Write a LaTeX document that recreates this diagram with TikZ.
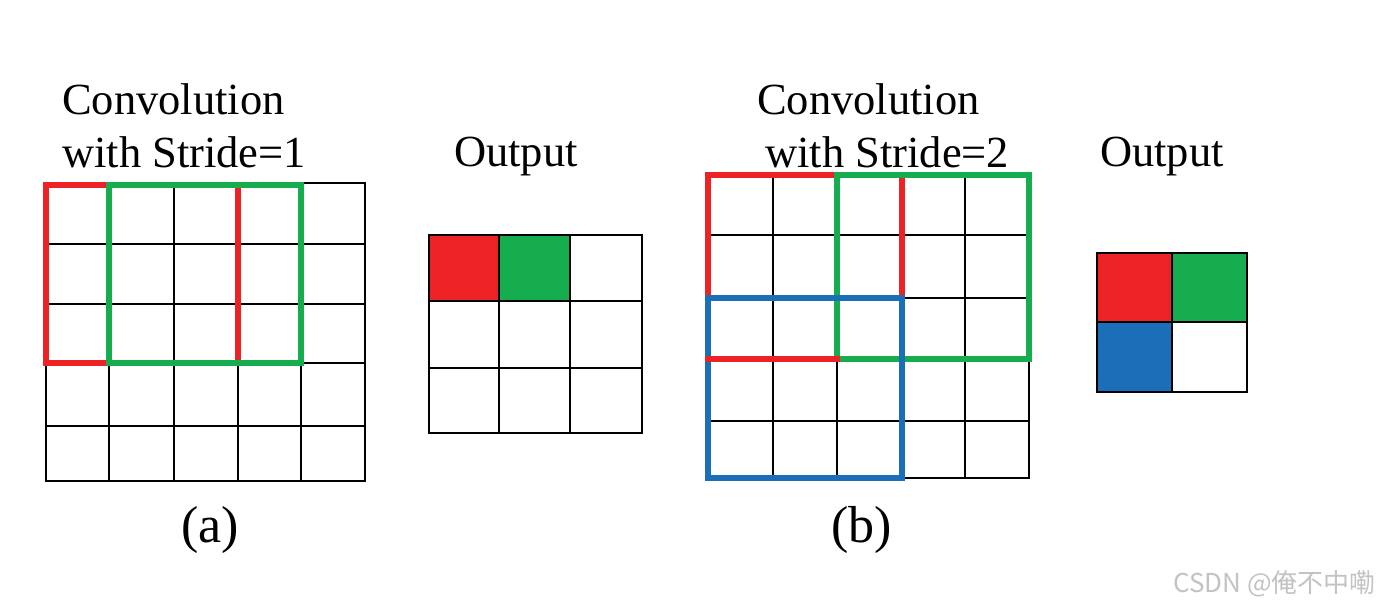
\documentclass[tikz,border=0pt]{standalone}
\usepackage{fontspec}
\setmainfont{Liberation Serif}
\newfontfamily\wmfont{Noto Sans CJK SC}
\definecolor{kred}{HTML}{ED2224}
\definecolor{kgreen}{HTML}{16AD4F}
\definecolor{kblue}{HTML}{1B6EB8}
\definecolor{wmgray}{RGB}{195,195,195}
\tikzset{
  gridline/.style={draw=black, line width=2.5pt, line cap=rect},
  winred/.style={draw=kred, line width=6.5pt, line cap=rect},
  wingreen/.style={draw=kgreen, line width=6.5pt, line cap=rect},
  winblue/.style={draw=kblue, line width=6.5pt, line cap=rect},
  lbl/.style={inner sep=0pt, anchor=base west, font=\fontsize{44.5}{50}\selectfont},
  sub/.style={inner sep=0pt, anchor=base west, font=\fontsize{52}{58}\selectfont},
  wm/.style={inner sep=0pt, anchor=base west, text=wmgray, font=\wmfont\fontsize{26}{29}\selectfont}
}
\begin{document}
\begin{tikzpicture}[x=1pt,y=-1pt]
\useasboundingbox (0,0) rectangle (1383,607);
\fill[white] (0,0) rectangle (1383,607);

% ---- (a) input grid 5x5
\foreach \x in {46,109,174,238,301,365} \draw[gridline] (\x,183) -- (\x,481);
\foreach \y in {183,244,304,363,426,481} \draw[gridline] (46,\y) -- (365,\y);
\draw[winred] (46,185) rectangle (238,363);
\draw[wingreen] (109,185) rectangle (301,363);

% ---- (a) output grid 3x3
\fill[kred] (429,235) rectangle (499,301);
\fill[kgreen] (499,235) rectangle (570,301);
\foreach \x in {429,499,570,642} \draw[gridline] (\x,235) -- (\x,433);
\foreach \y in {235,301,368,433} \draw[gridline] (429,\y) -- (642,\y);

% ---- (b) input grid 5x5
\foreach \x in {708,773,837,902,965,1029} \draw[gridline] (\x,175) -- (\x,478);
\foreach \y in {175,235,298,359,421,478} \draw[gridline] (708,\y) -- (1029,\y);
\draw[winred] (708,175) rectangle (902,359);
\draw[wingreen] (837,175) rectangle (1029,359);
\draw[winblue] (708,298) rectangle (902,478);
\coordinate (rb1) at (708,359);
\coordinate (rb2) at (837,359);
\draw[winred] (rb1) -- (rb2);

% ---- (b) output grid 2x2
\fill[kred] (1097,253) rectangle (1172,322);
\fill[kgreen] (1172,253) rectangle (1247,322);
\fill[kblue] (1097,322) rectangle (1172,392);
\foreach \x in {1097,1172,1247} \draw[gridline] (\x,253) -- (\x,392);
\foreach \y in {253,322,392} \draw[gridline] (1097,\y) -- (1247,\y);

% ---- texts
\node[lbl] (ta1) at (62,115) {Convolution};
\node[lbl] (ta2) at (62,167) {with Stride=1};
\node[lbl] (toa) at (454,166) {Output};
\node[lbl] (tb1) at (757,115) {Convolution};
\node[lbl] (tb2) at (765,167) {with Stride=2};
\node[lbl] (tob) at (1100,166) {Output};
\node[sub] (sa) at (181,542) {(a)};
\node[sub] (sb) at (831,542) {(b)};
\node[wm] (wmk) at (1173,592) {CSDN @俺不中嘞};
\end{tikzpicture}
\end{document}
